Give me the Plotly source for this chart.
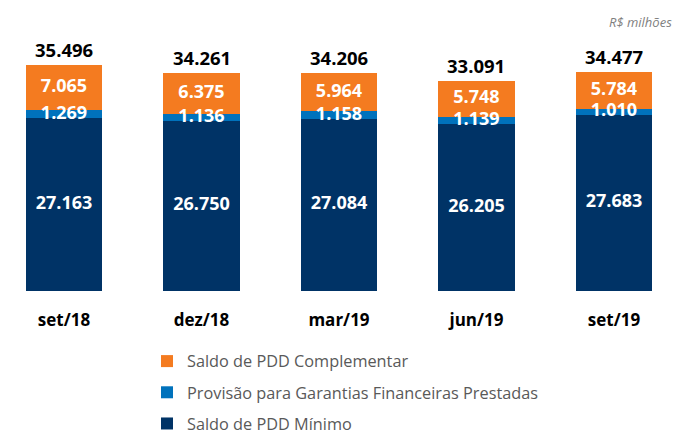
import plotly.graph_objects as go

categories = ["set/18", "dez/18", "mar/19", "jun/19", "set/19"]
pdd_minimo = [27163, 26750, 27084, 26205, 27683]
garantias = [1269, 1136, 1158, 1139, 1010]
pdd_complementar = [7065, 6375, 5964, 5748, 5784]
totais = [35496, 34261, 34206, 33091, 34477]

names = ["Saldo de PDD Mínimo", "Provisão para Garantias Financeiras Prestadas", "Saldo de PDD Complementar"]
colors = ["#003366", "#0072BC", "#F47B20"]
ranks = [3, 2, 1]
series = [pdd_minimo, garantias, pdd_complementar]

def fmt(v):
    return f"{v:,}".replace(",", ".")

FONT = "Open Sans"
fig = go.Figure()
for name, col, rk, vals in zip(names, colors, ranks, series):
    fig.add_trace(go.Bar(
        x=categories, y=vals, name=name, marker=dict(color=col, line=dict(width=0)),
        width=0.555, legendgroup=name, legendrank=rk, hoverinfo="skip",
    ))

# segment labels (drawn on top of all bars)
base = [0] * len(categories)
for vals in series:
    mids = [b + v / 2 for b, v in zip(base, vals)]
    fig.add_trace(go.Scatter(
        x=categories, y=mids, mode="text", text=[fmt(v) for v in vals],
        textfont=dict(family=FONT, size=18, color="white", weight="bold"),
        showlegend=False, hoverinfo="skip",
    ))
    base = [b + v for b, v in zip(base, vals)]

for c, t in zip(categories, totais):
    fig.add_annotation(x=c, y=t, text=fmt(t), showarrow=False, yanchor="bottom", yshift=1,
                       font=dict(family=FONT, size=18.5, color="black", weight="bold"))

fig.add_annotation(xref="paper", yref="paper", x=1.0, y=1.0, xanchor="right", yanchor="middle",
                   text="<i>R$ milhões</i>", showarrow=False, yshift=-22, xshift=-2,
                   font=dict(family=FONT, size=13, color="#7f7f7f"))

fig.update_layout(
    barmode="stack",
    width=676, height=432,
    margin=dict(l=0, r=0, t=0, b=141),
    plot_bgcolor="white", paper_bgcolor="white",
    xaxis=dict(range=[-0.4655, 4.451], showgrid=False, zeroline=False, showline=False,
               ticks="outside", ticklen=14, tickcolor="rgba(0,0,0,0)",
               tickfont=dict(family=FONT, size=17, color="black", weight="bold")),
    yaxis=dict(range=[0, 45755], visible=False),
    legend=dict(traceorder="grouped", tracegroupgap=7, x=147 / 676, xanchor="left",
                yref="container", y=1 - 344 / 432, yanchor="top",
                font=dict(family=FONT, size=16.3, color="#595959"), bgcolor="rgba(0,0,0,0)"),
    showlegend=True,
)

fig.write_html("out.html", config={"displayModeBar": False},
               post_script="document.body.style.margin='0';")
